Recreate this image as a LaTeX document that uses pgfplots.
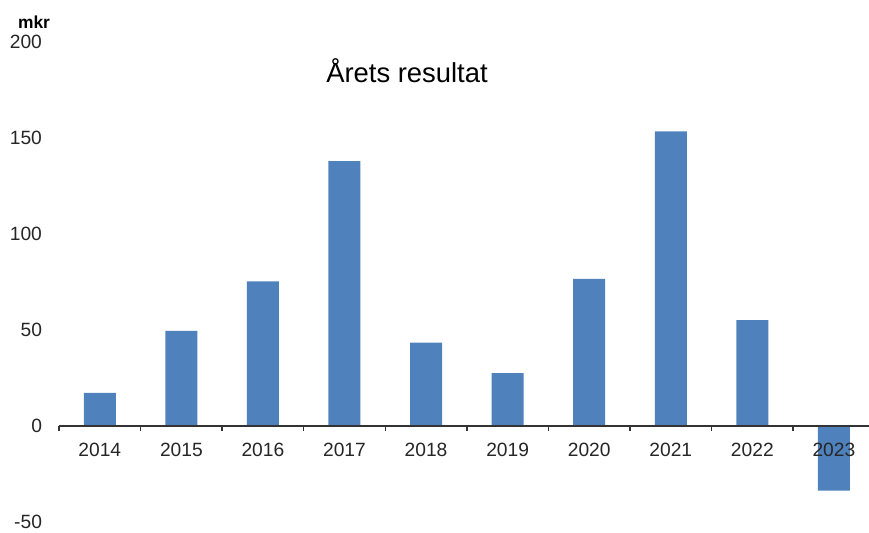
\documentclass[border=0pt]{standalone}
\usepackage{pgfplots}
\pgfplotsset{compat=1.18}
\usepackage{fontspec}
\setmainfont{Liberation Sans}
\definecolor{barblue}{RGB}{79,129,189}
\begin{document}
\begin{tikzpicture}
\useasboundingbox (-29.5pt,-5pt) rectangle (405pt,261pt);
\begin{axis}[
  at={(0pt,0pt)}, anchor=south west,
  scale only axis, width=405pt, height=240pt,
  xmin=-0.5, xmax=9.43, ymin=-50, ymax=200,
  axis on top,
  axis x line*=middle,
  axis y line*=left,
  y axis line style={draw=none},
  x axis line style={draw=black!80, line width=0.75pt},
  xtick={0,...,9},
  xticklabels={2014,2015,2016,2017,2018,2019,2020,2021,2022,2023},
  minor xtick={-0.5,0.5,...,8.5},
  major x tick style={draw=none},
  minor x tick style={draw=black!80, line width=0.75pt},
  tick align=outside,
  minor tick length=2.3pt,
  major tick length=0pt,
  ytick={-50,0,50,100,150,200},
  ytick style={draw=none},
  /pgf/number format/assume math mode=true,
  ticklabel style={font=\fontsize{9.6}{11}\selectfont, text=black!85},
  xticklabel style={anchor=base, yshift=-15.3pt},
  yticklabel style={anchor=east, xshift=-5pt},
]
\addplot[ybar, bar width=16pt, fill=barblue, draw=none] coordinates {
  (0,17.2) (1,49.5) (2,75.3) (3,138) (4,43.4) (5,27.6) (6,76.6) (7,153.4) (8,55.2) (9,-33.7)
};
\end{axis}
\node[anchor=base, font=\fontsize{13.7}{16}\selectfont] at (174pt,220pt) {Årets resultat};
\node[anchor=base, font=\bfseries\fontsize{8.7}{10}\selectfont] at (-12.5pt,247pt) {mkr};
\end{tikzpicture}
\end{document}
